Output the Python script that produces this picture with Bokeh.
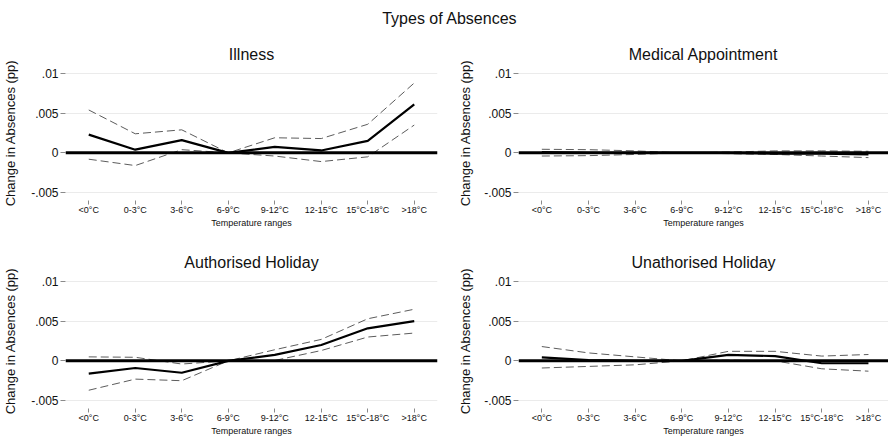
from bokeh.plotting import figure
from bokeh.models import Range1d, FixedTicker, Span
from bokeh.layouts import column, row
from bokeh.embed import file_html
from bokeh.resources import INLINE
from bokeh.core.properties import value

# ---------------- data ----------------
main_title = "Types of Absences"
categories = ["<0°C", "0-3°C", "3-6°C", "6-9°C", "9-12°C", "12-15°C", "15°C-18°C", ">18°C"]
x_positions = [1, 2, 3, 4, 5, 6, 7, 8]

y_ticks = [-0.005, 0.0, 0.005, 0.01]
y_tick_labels = ["-.005", "0", ".005", ".01"]

illness_est = [0.0023, 0.0004, 0.0016, 0.0, 0.00075, 0.0003, 0.0015, 0.0061]
illness_hi = [0.0054, 0.0024, 0.0029, 0.0, 0.0019, 0.0018, 0.0036, 0.0088]
illness_lo = [-0.0008, -0.0016, 0.0004, 0.0, -0.0004, -0.0011, -0.0005, 0.0035]

medical_est = [0.0001, 0.0, 0.0, 0.0, 0.0, -0.0001, -0.0001, -0.0002]
medical_hi = [0.00045, 0.0004, 0.00025, 0.0, 0.0001, 0.00025, 0.00025, 0.0002]
medical_lo = [-0.0004, -0.00035, -0.0002, 0.0, -0.0001, -0.0002, -0.0004, -0.0006]

auth_est = [-0.0016, -0.0009, -0.0015, 0.0, 0.00075, 0.002, 0.0041, 0.005]
auth_hi = [0.0005, 0.00045, -0.0004, 0.0, 0.0014, 0.0027, 0.0053, 0.0065]
auth_lo = [-0.0037, -0.0023, -0.0025, 0.0, 0.00005, 0.0013, 0.003, 0.0035]

unauth_est = [0.00045, 0.0001, 0.0, 0.0, 0.00075, 0.0006, -0.0003, -0.0003]
unauth_hi = [0.0018, 0.001, 0.0005, 0.0, 0.0012, 0.0012, 0.0006, 0.0008]
unauth_lo = [-0.0009, -0.0007, -0.0005, 0.0, 0.0001, 0.0, -0.001, -0.0013]

panel_titles = ["Illness", "Medical Appointment", "Authorised Holiday", "Unathorised Holiday"]
y_label = "Change in Absences (pp)"
x_label = "Temperature ranges"

FONT = "Liberation Sans"


def make_panel(title, est, hi, lo, left, top):
    if left:
        width, mb_left, mb_right = 444, 63, 7
        x_end = 8.5
        y_standoff = 10
    else:
        width, mb_left, mb_right = 444, 74, 0
        x_end = 0.5 + 370 / 46.66
        y_standoff = 8
    if top:
        height, mb_top, mb_bottom = 200, 29, 36
    else:
        height, mb_top, mb_bottom = 202, 37, 30
    p = figure(width=width, height=height, title=title,
               x_range=Range1d(0.5, x_end), y_range=Range1d(-0.006, 0.011),
               toolbar_location=None, output_backend="svg",
               min_border_left=mb_left, min_border_right=mb_right,
               min_border_top=mb_top, min_border_bottom=mb_bottom)
    p.outline_line_color = None
    p.background_fill_color = "white"
    p.border_fill_color = "white"

    p.title.align = "center"
    p.title.text_font = FONT
    p.title.text_font_size = "16px"
    p.title.text_font_style = "normal"
    p.title.text_color = "#111111"
    p.title.standoff = 5

    # x axis
    p.xaxis.ticker = FixedTicker(ticks=x_positions)
    p.xaxis.major_label_overrides = {x: c for x, c in zip(x_positions, categories)}
    p.xaxis.axis_line_color = None
    p.xaxis.major_tick_line_color = "#8a8a8a"
    p.xaxis.major_tick_in = 0
    p.xaxis.major_tick_out = 4
    p.xaxis.minor_tick_line_color = None
    p.xaxis.major_label_text_font = FONT
    p.xaxis.major_label_text_font_size = "9px"
    p.xaxis.major_label_text_color = "#111111"
    p.xaxis.major_label_standoff = 0
    p.xaxis.axis_label = x_label
    p.xaxis.axis_label_text_font = FONT
    p.xaxis.axis_label_text_font_size = "9px"
    p.xaxis.axis_label_text_font_style = "normal"
    p.xaxis.axis_label_text_color = "#111111"
    p.xaxis.axis_label_standoff = 0

    # y axis
    p.yaxis.ticker = FixedTicker(ticks=y_ticks)
    p.yaxis.major_label_overrides = {t: l for t, l in zip(y_ticks, y_tick_labels)}
    p.yaxis.axis_line_color = None
    p.yaxis.major_tick_line_color = "#8a8a8a"
    p.yaxis.major_tick_in = 0
    p.yaxis.major_tick_out = 5
    p.yaxis.minor_tick_line_color = None
    p.yaxis.major_label_text_font = FONT
    p.yaxis.major_label_text_font_size = "12px"
    p.yaxis.major_label_text_color = "#111111"
    p.yaxis.major_label_standoff = 2
    p.yaxis.axis_label = y_label
    p.yaxis.axis_label_text_font = FONT
    p.yaxis.axis_label_text_font_size = "13px"
    p.yaxis.axis_label_text_font_style = "normal"
    p.yaxis.axis_label_text_color = "#111111"
    p.yaxis.axis_label_standoff = y_standoff

    p.xgrid.grid_line_color = None
    p.ygrid.grid_line_color = "#ebebeb"
    p.ygrid.grid_line_width = 1

    p.line(x_positions, hi, line_color="#5c5c5c", line_width=1, line_dash="8 4")
    p.line(x_positions, lo, line_color="#5c5c5c", line_width=1, line_dash="8 4")
    p.line(x_positions, est, line_color="black", line_width=2.2)
    p.add_layout(Span(location=0, dimension="width", line_color="black", line_width=3))
    return p


# overall title strip
t = figure(width=888, height=36, x_range=Range1d(0, 1), y_range=Range1d(0, 1),
           toolbar_location=None, output_backend="svg",
           min_border_left=0, min_border_right=0, min_border_top=0, min_border_bottom=0)
t.axis.visible = False
t.grid.visible = False
t.outline_line_color = None
t.text(x=[0.506], y=[0.5], text=[main_title], text_align="center", text_baseline="middle",
       text_font=value(FONT), text_font_size="16px", text_color="#111111")

p1 = make_panel(panel_titles[0], illness_est, illness_hi, illness_lo, True, True)
p2 = make_panel(panel_titles[1], medical_est, medical_hi, medical_lo, False, True)
p3 = make_panel(panel_titles[2], auth_est, auth_hi, auth_lo, True, False)
p4 = make_panel(panel_titles[3], unauth_est, unauth_hi, unauth_lo, False, False)

layout = column(t, row(p1, p2, spacing=0), row(p3, p4, spacing=0), spacing=0)

open("out.html", "w").write(file_html(layout, INLINE))
